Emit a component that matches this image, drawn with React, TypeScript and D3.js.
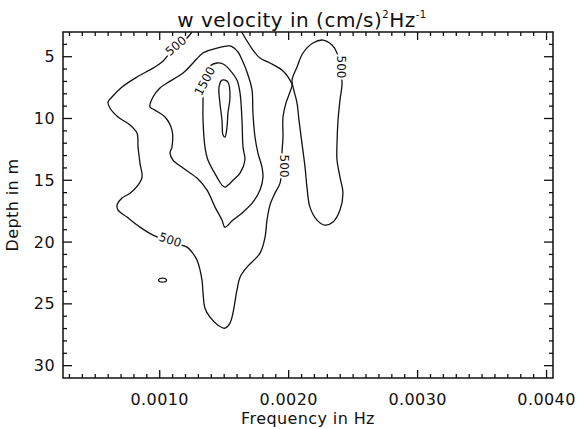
import React from "react";
import * as d3 from "d3";

type Pt = [number, number];

// Frequency (Hz), depth (m) samples along each contour line
const contour500Left: Pt[] = [
  [0.00125, 3.0], [0.001212, 3.49], [0.001157, 4.05], [0.00108, 4.7], [0.001018, 5.43],
  [0.000948, 5.92], [0.000824, 6.64], [0.000708, 7.45], [0.00063, 8.26], [0.000599, 8.67],
  [0.000614, 9.15], [0.000677, 9.88], [0.00077, 10.53], [0.000824, 11.18], [0.000832, 12.31],
  [0.000847, 13.61], [0.000863, 14.74], [0.000832, 15.39], [0.00077, 16.04], [0.000708, 16.44],
  [0.000669, 17.01], [0.000677, 17.41], [0.000746, 17.98], [0.000847, 18.79], [0.000948, 19.44],
  [0.001041, 19.84], [0.001142, 20.17], [0.001212, 20.41], [0.00125, 20.81], [0.001289, 21.46],
  [0.001328, 23.08], [0.001336, 24.13], [0.001351, 25.35], [0.00139, 26.08], [0.001452, 26.73],
  [0.001506, 26.97], [0.001545, 26.56], [0.001568, 25.75], [0.001599, 23.89], [0.001623, 22.84],
  [0.001677, 22.03], [0.001778, 20.9], [0.001817, 19.6], [0.001832, 18.22], [0.001855, 17.01],
  [0.001894, 16.04], [0.001933, 15.23], [0.001948, 13.77], [0.001948, 12.8], [0.001956, 11.5],
  [0.001956, 9.88], [0.001979, 8.75], [0.00201, 7.86], [0.002026, 7.29], [0.001995, 6.64],
  [0.001948, 6.08], [0.001855, 5.51], [0.001778, 5.11], [0.001723, 4.46], [0.001635, 3.0],
];

const contour1000: Pt[] = [
  [0.001258, 5.51], [0.001336, 4.7], [0.001444, 4.3], [0.001545, 4.13], [0.001607, 4.62],
  [0.001646, 5.43], [0.001685, 6.48], [0.001716, 7.7], [0.001723, 9.56], [0.001739, 11.5],
  [0.001762, 12.8], [0.001793, 13.93], [0.001801, 14.74], [0.001778, 15.79], [0.001723, 16.77],
  [0.001646, 17.58], [0.001568, 18.22], [0.001506, 18.8], [0.001483, 18.22], [0.001429, 17.17],
  [0.001367, 15.79], [0.001289, 14.82], [0.001181, 14.01], [0.001103, 13.36], [0.00108, 12.8],
  [0.001095, 12.31], [0.001095, 10.94], [0.001041, 9.88], [0.000963, 9.32], [0.000925, 9.07],
  [0.000948, 8.26], [0.001002, 7.53], [0.001057, 7.13], [0.001181, 6.32],
];

const contour1500: Pt[] = [
  [0.001336, 8.26], [0.001336, 10.13], [0.001351, 12.31], [0.001374, 13.36], [0.001444, 14.74],
  [0.001483, 15.39], [0.001506, 15.55], [0.00153, 15.39], [0.001568, 15.0], [0.001623, 14.42],
  [0.001661, 13.36], [0.001646, 12.31], [0.001638, 10.13], [0.001623, 7.94], [0.001599, 6.89],
  [0.001545, 6.08], [0.001491, 5.59], [0.001444, 5.51], [0.00139, 5.75], [0.001351, 6.48],
  [0.001336, 7.29],
];

const contour2000: Pt[] = [
  [0.001483, 6.89], [0.001529, 7.05], [0.001545, 8.26], [0.001529, 9.56], [0.001522, 10.69],
  [0.001506, 11.5], [0.001491, 11.34], [0.001483, 10.13], [0.001467, 8.75], [0.00146, 7.45],
];

const contour500Right: Pt[] = [
  [0.002266, 3.65], [0.002189, 3.89], [0.002111, 4.7], [0.002065, 5.83], [0.002026, 6.89],
  [0.002034, 7.45], [0.002065, 8.75], [0.00208, 10.13], [0.002103, 11.99], [0.002127, 13.93],
  [0.002142, 15.55], [0.002165, 17.17], [0.00222, 18.22], [0.002282, 18.63], [0.002344, 18.38],
  [0.002398, 17.41], [0.002421, 16.04], [0.002398, 14.74], [0.002375, 13.36], [0.002375, 11.99],
  [0.002383, 10.13], [0.002398, 8.51], [0.002414, 7.13], [0.002398, 5.92], [0.002375, 4.7],
  [0.002336, 4.05],
];

const contour500Small: Pt[] = [
  [0.001053, 23.08], [0.001042, 22.95], [0.001022, 22.92], [0.001002, 22.95],
  [0.000991, 23.08], [0.001002, 23.21], [0.001022, 23.24], [0.001042, 23.21],
];

const contourLabels = [
  { text: "500", f: 0.001126, d: 4.13, angle: -40 },
  { text: "500", f: 0.00108, d: 19.84, angle: 18 },
  { text: "500", f: 0.001964, d: 13.85, angle: 90 },
  { text: "500", f: 0.002406, d: 5.83, angle: 90 },
  { text: "1500", f: 0.001351, d: 6.97, angle: -62 },
];

const freqMajorTicks = [0.001, 0.002, 0.003, 0.004];
const freqTickLabels = ["0.0010", "0.0020", "0.0030", "0.0040"];
const depthMajorTicks = [5, 10, 15, 20, 25, 30];
const depthTickLabels = ["5", "10", "15", "20", "25", "30"];

const W = 579;
const H = 429;
const L = 63, R = 553, T = 32, B = 378;
const FONT = "DejaVu Sans, sans-serif";

export default function App() {
  const x = d3.scaleLinear().domain([0.00025, 0.00405]).range([L, R]);
  const y = d3.scaleLinear().domain([3, 31]).range([T, B]);

  const openLine = d3.line<Pt>().x((p) => x(p[0])).y((p) => y(p[1])).curve(d3.curveCatmullRom.alpha(0.5));
  const closedLine = d3.line<Pt>().x((p) => x(p[0])).y((p) => y(p[1])).curve(d3.curveCatmullRomClosed.alpha(0.5));

  const freqMinor = d3.range(3, 41).map((i) => i * 0.0001).filter((v) => !freqMajorTicks.some((m) => Math.abs(m - v) < 1e-9));
  const depthMinor = d3.range(4, 31).filter((v) => v % 5 !== 0);

  const stroke = "#111";
  return (
    <svg width={W} height={H} style={{ position: "absolute", left: 0, top: 0, background: "#fff" }}>
      <defs>
        <clipPath id="plotClip">
          <rect x={L} y={T} width={R - L} height={B - T} />
        </clipPath>
      </defs>
      <rect x={0} y={0} width={W} height={H} fill="#fff" />
      <g clipPath="url(#plotClip)" fill="none" stroke={stroke} strokeWidth={1.3}>
        <path d={openLine(contour500Left) || ""} />
        <path d={closedLine(contour1000) || ""} />
        <path d={closedLine(contour1500) || ""} />
        <path d={closedLine(contour2000) || ""} />
        <path d={closedLine(contour500Right) || ""} />
        <path d={closedLine(contour500Small) || ""} />
      </g>
      <g fontFamily={FONT} fontSize={12} fill={stroke}>
        {contourLabels.map((c, i) => (
          <text
            key={i}
            transform={`translate(${x(c.f)},${y(c.d)}) rotate(${c.angle})`}
            textAnchor="middle"
            dominantBaseline="central"
            stroke="#fff"
            strokeWidth={4}
            paintOrder="stroke"
          >
            {c.text}
          </text>
        ))}
      </g>
      {/* frame */}
      <rect x={L} y={T} width={R - L} height={B - T} fill="none" stroke={stroke} strokeWidth={1.5} />
      <g stroke={stroke} strokeWidth={1.3}>
        {freqMajorTicks.map((v) => (
          <g key={"fM" + v}>
            <line x1={x(v)} x2={x(v)} y1={B} y2={B - 8} />
            <line x1={x(v)} x2={x(v)} y1={T} y2={T + 8} />
          </g>
        ))}
        {freqMinor.map((v) => (
          <g key={"fm" + v}>
            <line x1={x(v)} x2={x(v)} y1={B} y2={B - 4} />
            <line x1={x(v)} x2={x(v)} y1={T} y2={T + 4} />
          </g>
        ))}
        {depthMajorTicks.map((v) => (
          <g key={"dM" + v}>
            <line x1={L} x2={L + 9} y1={y(v)} y2={y(v)} />
            <line x1={R} x2={R - 9} y1={y(v)} y2={y(v)} />
          </g>
        ))}
        {depthMinor.map((v) => (
          <g key={"dm" + v}>
            <line x1={L} x2={L + 4} y1={y(v)} y2={y(v)} />
            <line x1={R} x2={R - 4} y1={y(v)} y2={y(v)} />
          </g>
        ))}
      </g>
      <g fontFamily={FONT} fontSize={16} fill={stroke} letterSpacing={0.4}>
        {freqMajorTicks.map((v, i) => (
          <text key={"fl" + v} x={x(v)} y={405} textAnchor="middle">
            {freqTickLabels[i]}
          </text>
        ))}
        {depthMajorTicks.map((v, i) => (
          <text key={"dl" + v} x={55} y={y(v)} textAnchor="end" dominantBaseline="central">
            {depthTickLabels[i]}
          </text>
        ))}
        <text x={(L + R) / 2} y={424} textAnchor="middle">Frequency in Hz</text>
        <text transform={`translate(18,${(T + B) / 2}) rotate(-90)`} textAnchor="middle">Depth in m</text>
      </g>
      <text x={(L + R) / 2 - 6} y={27} textAnchor="middle" fontFamily={FONT} fontSize={20} letterSpacing={0.5} fill={stroke}>
        w velocity in (cm/s)
        <tspan fontSize={10} dy={-9}>2</tspan>
        <tspan dy={9}>Hz</tspan>
        <tspan fontSize={10} dy={-9}>-1</tspan>
      </text>
    </svg>
  );
}
